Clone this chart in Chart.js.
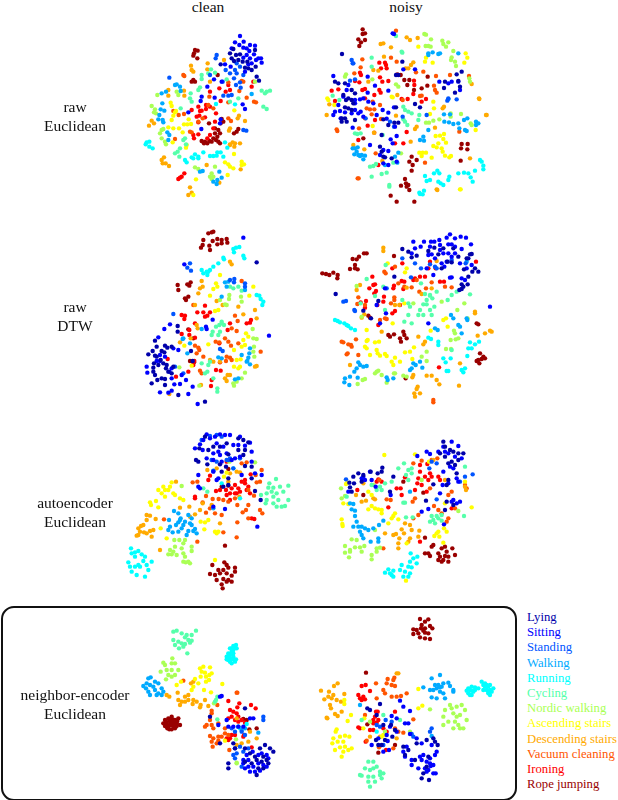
<!DOCTYPE html>
<html>
<head>
<meta charset="utf-8">
<script src="https://cdn.jsdelivr.net/npm/chart.js@4"></script>
<style>
  html, body { margin: 0; padding: 0; background: #fff; }
  #page { position: relative; width: 618px; height: 800px; overflow: hidden; font-family: "Liberation Serif", serif; color: #111; }
  #page canvas { position: absolute; }
  .title, .rowLabel { position: absolute; font-size: 15.5px; line-height: 18.5px; text-align: center; white-space: nowrap; }
  .title { width: 100px; top: -2px; }
  .rowLabel { left: 5px; width: 140px; }
  .legendItem { position: absolute; left: 527px; font-size: 12.7px; line-height: 15px; white-space: nowrap; }
  #frame { position: absolute; left: 1px; top: 606px; width: 512px; height: 191px; border: 2px solid #111; border-radius: 13px; }
</style>
</head>
<body>
<div id="page"><div id="frame"></div></div>
<script>
const activities = ['Lying', 'Sitting', 'Standing', 'Walking', 'Running', 'Cycling', 'Nordic walking', 'Ascending stairs', 'Descending stairs', 'Vacuum cleaning', 'Ironing', 'Rope jumping'];
const activityColors = ['#0000aa', '#0000ff', '#0055ff', '#00aaff', '#00ffff', '#55ffaa', '#aaff55', '#ffff00', '#ffaa00', '#ff5500', '#ff0000', '#990000'];
const columnTitles = ['clean', 'noisy'];
const rowLabels = [['raw', 'Euclidean'], ['raw', 'DTW'], ['autoencoder', 'Euclidean'], ['neighbor-encoder', 'Euclidean']];

// embedding values, one x,y list per activity (same order as activities)
const rawEuclideanClean = [
  [310,72,300,85,318,90,305,100,330,88,312,108,325,105,272,118,345,128,355,130,377,125,365,135,380,155,387,167,352,110,338,110,375,75],
  [330,33,315,52,341,50,328,60,305,70,340,68,350,70,360,60,375,62,358,78,372,88,350,90,340,98,360,100,385,100,393,100,395,113,378,105,365,115,355,118,285,118,302,125,345,140,232,185,252,163,275,170,345,252,338,238,254,218,215,215,212,228,175,262,270,295,272,283,214,312],
  [260,90,257,100,118,158,300,145,320,115,330,125,315,135,320,145,340,150,312,160,330,172,318,180,305,210,295,212,280,212,332,188,287,135,278,170,340,315,349,317,240,150],
  [140,178,150,185,135,180,108,200,95,205,152,198,97,235,92,253,103,257,88,270,85,283,98,285,100,292,112,322,118,330,115,345,365,207,218,438,210,440,268,440,275,458,262,465,260,477,250,470],
  [50,352,58,350,47,358,58,365,68,370,185,397,195,388,205,395,190,400,205,400,165,405,170,412,220,382,240,393,250,393,262,382,272,382,260,392,280,395,292,368,285,352,258,237,315,238],
  [243,133,235,145,255,143,215,150,215,162,290,163,210,187,205,195,182,205,180,220,185,230,395,197,405,205,420,197,410,200,400,245,410,252,152,250,165,340,160,345,168,358,150,370,143,380,135,385,148,395,300,230,325,220],
  [82,210,65,243,75,253,78,265,72,262,95,315,90,325,95,340,105,350,108,358,140,200,145,210,195,427,205,432,255,425,245,445,240,455,250,455,245,462,375,170,100,312],
  [122,233,125,243,135,262,130,272,138,258,125,285,115,307,130,310,147,310,162,298,172,298,183,297,176,283,128,352,168,368,170,360,158,322,312,387,285,412,295,418,310,430,335,410,342,418,335,420,300,425,293,450,198,463,313,256,190,510],
  [233,115,183,122,185,135,190,140,232,133,240,170,115,195,115,212,162,197,163,212,65,287,72,295,57,302,102,397,95,405,98,415,107,415,117,423,332,433,330,355,315,355,300,358,308,352,313,365,300,360,297,317,300,310,323,280,327,272,345,288,180,487,185,503,175,510,282,105,230,420,268,473],
  [160,150,163,153,372,230,378,232,350,218,328,198,335,168,340,170,238,215,295,232,295,172,130,258,146,270,162,267,180,320,185,322,295,280,303,288,135,342,205,290,218,280,250,250,235,240],
  [365,185,295,180,287,200,272,228,300,195,240,200,268,190,258,265,228,240,240,245,228,252,205,245,210,258,185,255,215,257,200,275,208,272,225,277,205,292,255,290,190,330,205,328,192,340,145,462,150,458,155,455,163,445,250,310,370,170,240,330,232,340],
  [195,75,203,77,192,85,190,92,202,100,185,170,195,170,190,165,263,150,255,310,265,315,270,325,255,325,262,335,250,340,245,350,238,348,225,350,215,348,232,355,222,355,258,345,265,350,270,355,275,282,280,290,272,295,325,312,320,320,312,325,237,295]
];
const rawEuclideanNoisy = [
  [66,102,45,185,55,190,75,190,95,210,70,225,85,235,105,220,78,240,95,240,100,250,75,262,85,265,95,270,65,295,75,295,80,305,105,300,190,298,185,345,180,380,185,395,190,410,195,412,215,415,247,125,228,165,235,165,410,163,425,155,415,183,405,218,420,200,375,185,372,204,285,252,300,262,228,262,205,315,223,308,235,308,65,305],
  [40,168,70,230,80,210,85,195,105,240,105,250,55,255,45,275,60,273,75,277,40,285,62,295,95,280,105,270,122,275,130,290,98,323,115,280,120,238,130,235,145,245,160,250,143,218,165,197,143,170,205,212,205,278,188,270,170,285,200,296,222,262,150,375,180,405,190,390,205,393,212,358,230,348,218,370,225,320,250,148,285,148,218,40,222,42,395,185,415,185,385,190,358,185,420,210,190,430,205,435,230,425],
  [95,120,98,130,100,130,90,182,105,178,385,235,382,242,410,238,320,285,210,305,222,320,137,295,248,290],
  [325,100,338,97,355,102,360,100,415,100,325,105,385,238,372,283,390,283,373,305,387,307,400,312,415,310,418,325,432,300,442,295,435,330,440,333,468,305,475,310,468,315,325,330,300,360,310,350,312,362,105,385,98,385,113,382,110,395,103,403,115,405,125,405,135,407,130,418,120,408,235,398,225,410,232,428,195,435],
  [300,522,312,512,308,523,298,518,315,468,330,480,320,483,342,460,352,452,358,460,355,485,362,490,370,495,385,480,388,470,415,460,432,458,445,460,452,472,458,485,465,452,480,420,485,425,490,437,490,448],
  [228,48,245,95,247,98,155,113,155,140,38,227,58,240,105,340,112,342,122,340,250,260,255,270,265,275,275,280,298,285,295,300,255,305,262,315,250,298,155,470,150,440,160,438,168,432,185,462,200,458,208,495,208,500,220,428,188,345],
  [78,163,75,170,157,178,228,193,235,200,313,42,318,44,333,58,367,62,370,72,385,67,378,80,317,78,325,78,332,80,400,93,395,112,393,120,405,125,408,138,448,175,450,185,318,308,327,308,340,302,358,298,392,280,392,290,423,282,452,310,455,315,243,400],
  [22,235,25,240,43,255,295,80,318,113,315,125,338,128,437,100,442,113,433,128,340,245,342,265,330,282,372,342,360,347,347,348,370,357,378,368,355,370,340,378,350,382,365,385,368,395,375,407,388,412,393,408,298,398,308,398,318,398,305,408,335,413,420,508,422,508,467,330,215,230,218,232,158,318],
  [20,285,28,253,182,72,190,70,213,82,260,52,270,60,293,54,192,110,257,145,265,145,273,135,280,127,145,185,175,152,160,150,232,225,228,287,368,265,372,260,345,323,290,320,285,327,450,415,350,508,352,510,477,235,478,237,498,285,500,285,455,192,272,365,162,338,133,388,187,423,100,375],
  [228,32,127,118,213,113,230,125,288,157,310,155,342,197,345,210,350,218,348,168,390,165,447,168,305,227,300,228,248,240,158,245,140,265,150,268,163,268,180,255,183,297,155,283,50,328,52,333,117,325,163,338,167,400,315,428,113,475,116,475,103,160,122,142,135,295,418,335],
  [55,208,35,212,45,243,120,158,123,165,105,183,118,187,127,210,135,207,178,128,195,128,198,135,180,172,187,185,205,183,183,145,200,145,178,210,182,218,163,225,135,235,263,237,282,182,283,195,245,237,280,222,305,245,318,237,143,317,260,336,225,370,175,435,115,360,250,370,165,300],
  [128,28,128,42,135,40,115,58,135,60,123,67,118,78,232,163,242,165,253,180,268,180,262,195,282,210,305,205,323,170,322,197,130,355,275,410,290,420,268,425,278,435,275,452,425,372,443,372,423,385,442,388,422,422,255,477,258,490,265,495,243,497,260,500,268,510,212,527,230,545,283,545]
];
const rawDtwClean = [
  [380,112,75,347,68,378,55,388,80,365,95,378,105,362,112,368,103,382,75,392,80,395,72,415,70,428,85,420,92,405,100,415,110,420,108,430,115,440,125,445,70,440,75,450,82,465,65,475,95,460,105,462,105,480,125,365,143,320,143,303,183,378,188,408,130,425,145,510,225,530],
  [340,38,163,118,120,298,103,312,85,337,130,370,145,375,90,390,90,408,105,395,80,408,50,425,52,443,118,440,125,430,125,460,133,478,150,477,168,465,155,450,125,497,115,503,90,502,175,507,203,537,188,485,417,332,248,284,228,305,230,312],
  [180,115,172,128,183,137,130,267,300,165,313,162,312,172,345,175,345,185,270,372,278,378,160,445,135,425],
  [285,172,295,170,290,185,345,195,360,370,358,385,355,398,350,410,360,418,352,408,335,390,315,463,325,460,160,340,158,342,275,215,180,355,172,385,215,312,275,400,265,397],
  [318,68,328,66,310,72,312,82,340,92,343,100,280,98,282,103,265,115,250,125,240,135,230,140,215,135,220,145,232,150,235,140,380,210,388,212,392,222,400,230,397,240],
  [300,185,310,190,325,185,335,197,275,295,268,300,258,305,248,320,245,330,270,320,265,330,282,300,275,290,240,410,235,420,232,440,225,445,215,415,250,460,262,490,262,500],
  [298,210,297,222,285,238,290,240,270,225,333,215,335,230,370,340,380,342,372,365,370,380,373,395,345,443,335,460,320,470,310,475,312,482,148,427,208,482,368,312],
  [258,175,270,150,262,185,240,212,250,192,255,258,265,255,358,212,370,185,348,325,355,335,340,345,345,360,335,365,312,375,320,405,332,403,312,425,325,430,330,425,235,358,185,422,163,362],
  [300,110,305,118,215,168,218,185,210,190,205,205,195,240,260,228,278,240,340,268,375,255,380,280,325,245,200,300,203,310,150,352,182,340,240,405,250,410,293,450,300,450,285,460,290,468,375,425,380,423,118,507,213,480,270,410],
  [315,272,323,288,305,310,320,318,285,340,295,350,303,362,325,355,195,362,205,368,208,375,200,385,290,395,300,398,288,408,305,405,392,380,210,437,215,445,257,350,268,352,220,395,335,168,190,240],
  [225,242,202,262,220,262,232,272,240,262,225,275,155,270,165,272,163,282,195,295,178,315,155,327,178,330,195,338,300,295,293,315,350,295,270,412,258,435,272,437,245,465,243,483,175,440,190,420,138,455,113,402,193,408,360,293,268,355,363,285],
  [235,25,245,22,250,20,220,45,248,48,262,42,275,45,290,42,292,53,275,55,262,58,238,62,240,75,213,68,218,60,143,180,145,195,172,178,182,172,178,182,165,220,175,215,168,225,175,313,190,340,180,408,188,410,192,412]
];
const rawDtwNoisy = [
  [262,72,280,80,290,97,305,92,340,78,358,68,370,88,385,70,398,110,410,112,415,70,430,95,455,100,460,100,465,88,470,87,447,133,480,130,490,140,472,140,440,178,440,192,445,185,460,155,433,195,62,207,190,228,238,155,145,257,168,280,458,178,380,130],
  [295,50,327,50,348,50,358,50,373,45,395,38,405,28,420,40,437,35,453,38,468,58,345,65,375,60,400,58,410,58,420,65,440,72,385,85,400,85,410,95,375,75,300,70,317,65,340,90,350,88,360,100,380,115,395,110,420,85,435,115,455,130,470,120,440,160,450,165,405,158,410,157,388,125,355,150,335,130,290,85,185,240,210,190,213,265,525,245,195,295,340,295],
  [118,255,120,258,85,230,93,228,262,100,288,157,318,130,345,118,360,125,365,130,215,190,300,115,410,105,452,115],
  [455,110,408,270,415,280,430,300,435,305,455,280,457,285,360,310,368,315,130,412,135,420,125,430,118,440,105,455,90,460,88,472,103,480,128,458,145,425,155,423,215,457,218,465,235,460,290,430,285,435,295,415,302,420,315,410,322,428,440,325],
  [60,285,68,288,75,292,88,295,100,303,95,300,108,310,120,315,340,338,348,342,370,350,370,360,465,352,470,370,480,358,492,350,460,370,385,400,392,412,395,438,400,438,407,400,457,393,440,435,450,430,445,442],
  [155,162,212,120,180,213,205,185,318,175,330,207,345,210,352,220,335,225,345,212,358,245,345,255,350,270,365,200,398,225,410,210,425,200,465,208,285,245,280,270,268,290,290,295,310,270,325,270,325,238,335,238,315,255,262,225,280,235,210,255,137,235,410,375],
  [125,183,140,275,295,235,380,230,448,235,427,255,458,280,417,317,420,325,407,345,422,343,430,340,408,372,393,372,335,380,320,395,335,408,185,440,190,437,180,445,200,450,237,445,265,452,275,455,143,465,150,462,128,477,215,473,240,445],
  [218,115,275,130,270,142,268,235,233,295,155,315,158,345,155,348,150,365,155,370,192,350,185,375,165,390,188,385,195,392,210,387,215,393,240,398,230,410,235,420,270,382,285,380,297,367,292,402,385,285,393,280,398,305,347,317,255,410,180,352],
  [205,68,205,78,135,180,125,195,365,108,350,190,320,207,275,188,480,260,480,265,510,325,525,317,530,320,488,332,310,335,325,358,330,350,200,320,240,240,253,240,105,420,295,450,292,457,335,452,350,452,365,465,373,478,432,482,435,415,308,485,305,492,298,505,300,515,315,505,148,268,140,278],
  [208,140,212,145,240,125,130,217,127,237,210,280,215,282,228,235,238,217,238,225,250,175,268,185,290,187,313,200,333,190,350,172,390,185,410,187,305,165,80,350,85,352,100,358,108,360,110,365,98,385,95,388,130,390,123,343,355,525,355,532,150,240,195,285],
  [232,130,262,115,172,155,175,180,180,178,163,190,183,198,178,205,153,228,150,248,137,232,207,215,205,230,187,240,235,190,237,182,268,170,260,168,265,192,295,165,300,160,315,155,330,155,375,170,387,170,345,110,362,130,483,110,240,258,232,265,190,300,372,427,255,240,340,130],
  [22,145,33,147,43,150,55,143,68,150,67,160,113,102,125,103,132,95,147,85,155,85,105,132,120,120,120,130,128,133,237,93,160,272,165,278,220,330,225,335,237,328,265,320,268,330,255,340,258,350,275,340,485,295,490,298,495,385,505,395,510,400,500,402,490,405,485,408,493,415,272,460]
];
const autoencoderClean = [
  [238,70,255,35,265,75,280,65,300,65,320,55,355,40,370,45,385,52,228,105,235,110,262,118,300,118,318,125,370,90,375,75,355,75,325,88,375,123,395,125,405,198,422,225,310,185,325,160,305,140,325,180,395,160],
  [260,28,270,40,250,45,285,35,300,28,315,30,330,30,360,35,240,58,225,70,248,75,290,55,310,65,295,80,280,85,300,90,320,85,340,60,355,60,375,62,360,95,345,100,335,105,260,100,280,105,395,80,390,53,305,110,235,150,240,190,280,140,295,160,290,165,405,145,395,110,315,252,280,245,412,305,425,150,365,150,235,185],
  [245,45,290,30,270,33,305,35,360,100,330,100,275,105,320,105,290,110,280,138,340,130,325,105],
  [162,258,175,265,147,285,182,280,175,292,190,300,205,270,215,280,215,300,205,318,225,312,230,325,145,315,158,322,175,320,185,310,195,290,200,330,220,318,168,300,180,285,150,305,280,250,210,295,280,137],
  [33,370,35,385,45,382,55,378,65,388,75,395,45,395,25,412,30,425,45,425,55,420,70,408,80,420,95,410,85,435,35,440,50,450,75,455,60,425,305,175,360,220,340,130],
  [250,190,262,200,448,175,468,162,445,188,460,188,480,185,505,182,423,210,440,205,455,200,470,205,490,200,505,225,440,225,460,215,475,225,460,235,470,245,495,243,485,245,437,235],
  [328,110,405,112,185,183,163,345,178,345,195,345,165,365,190,355,150,375,160,380,145,388,155,388,185,370,190,385,170,390,195,395,215,365,215,378,190,410,205,410,210,415,197,412],
  [155,172,130,185,115,195,135,195,150,185,145,195,125,205,135,215,160,205,165,210,180,220,190,225,108,228,90,232,93,240,115,247,242,290,255,292,265,285,253,313,285,320,290,325,295,320,122,310,140,340,285,405,320,143,312,155],
  [168,170,90,272,80,285,70,300,63,303,55,310,60,320,72,322,80,325,90,318,100,315,55,330,50,332,95,335,80,270,107,282,180,248,208,245,240,255,210,275,225,268,275,240,300,295,120,375,325,170,358,215,360,142,262,135,330,145,350,140,248,235,290,130],
  [218,172,232,170,258,213,248,232,278,222,296,222,270,250,258,263,285,265,305,270,352,292,310,322,350,337,232,350,132,283,385,280,368,262,378,255,352,240,385,240,425,135,407,150,410,172,420,170,420,255,427,265,380,112,365,115,402,212,385,195,325,230,310,225,345,220],
  [270,152,265,165,288,198,300,195,318,195,320,210,330,205,345,180,355,190,335,190,375,175,385,185,380,195,360,200,330,225,225,215,225,220,395,280,403,282,390,205,375,165,365,170,345,205,320,110,392,148,350,205],
  [315,362,313,412,320,420,277,420,295,435,310,435,325,428,345,428,345,440,270,447,285,450,300,445,320,445,335,452,290,465,310,462,325,465,335,470,305,478,320,470,308,490,325,132,305,185,325,182]
];
const autoencoderNoisy = [
  [70,140,72,160,85,130,100,135,122,125,143,130,157,113,155,125,65,185,60,172,58,158,95,155,180,185,190,140,345,50,330,70,345,80,360,60,370,65,385,70,400,70,355,100,365,95,385,90,375,105,380,130,310,163,350,165,355,150,288,212,350,215,370,225,345,240,340,35],
  [340,50,365,35,385,48,300,72,325,65,345,65,355,70,375,80,395,85,360,110,370,115,380,145,385,155,355,160,340,125,330,190,365,215,370,210,380,220,390,215,342,283,295,237,275,245,100,140,95,145,105,150,125,150,137,170,55,185,182,195,262,78,290,65,120,125,338,165],
  [48,148,298,115,305,95,320,100,428,133,320,208,390,155,405,140],
  [60,220,70,222,65,238,75,242,75,258,70,290,85,290,95,290,105,295,90,305,95,315,100,325,115,300,130,295,145,325,145,335,122,335,80,275,160,272,147,285,240,185],
  [242,370,240,395,250,385,262,380,260,400,215,405,235,410,245,412,210,420,225,425,240,430,190,422,175,418,180,430,190,440,165,428,220,440,235,440,185,435],
  [205,115,222,100,235,120,245,115,228,135,235,150,245,130,150,170,155,180,140,180,185,155,165,160,220,218,225,218,305,258,320,258,335,255,310,270,325,265,335,272,300,275,315,280,405,110,402,258,228,262,248,262,125,165,50,200],
  [33,175,35,205,45,198,65,328,80,330,45,348,60,360,75,352,90,352,103,348,45,368,60,365,57,382,95,365,140,355,150,353,140,365,125,375,125,388,135,300,275,150,385,243,130,165],
  [163,75,255,73,48,162,52,158,40,220,55,222,115,185,125,195,125,228,115,238,135,235,145,238,155,240,155,250,195,250,190,258,185,265,205,268,175,280,35,268,37,282,38,288,313,318,325,305,320,310,328,320,342,295,350,305,340,338,230,340,425,232,405,155,297,95,228,452,345,220],
  [78,195,95,215,108,212,130,205,135,208,100,160,240,285,225,280,215,298,198,312,190,315,208,325,245,300,240,325,235,335,205,340,205,355,265,320,165,310,268,302,222,310,310,90,345,150,405,170,408,180],
  [250,100,305,90,275,92,322,85,170,208,182,210,160,355,248,215,255,205,300,175,312,228,325,240,335,250,350,275,355,265,375,235,405,165,410,175,355,195,365,185,265,255,250,265,148,150],
  [270,105,292,102,270,125,300,130,285,140,305,140,265,145,295,150,262,160,255,180,275,165,290,185,330,150,145,148,140,155,200,175,212,175,215,195,82,180,225,142,270,335,365,235,325,140,155,155,175,232],
  [220,155,100,195,285,323,285,370,295,370,300,378,310,345,305,350,325,370,335,355,345,350,350,365,330,380,340,390,325,390,345,378,355,380,367,355,375,375,355,395,335,395,280,188]
];
const neighborEncoderClean = [
  [360,400,375,410,390,385,405,375,420,385,430,395,400,410,380,420,365,430,395,425,410,420,415,430,400,445,345,425,385,445,380,465,345,265,240,290,270,370,310,370,345,385,315,385,295,430,295,445],
  [350,405,355,420,368,395,385,405,395,400,410,405,415,415,340,430,355,440,370,440,385,430,400,435,410,440,360,455,345,445,375,455,390,452,340,420,340,320,325,320,290,300,270,230,275,228,360,295,370,295,265,315,295,320,310,320],
  [315,385,330,380,320,400,310,405,315,415,340,395,400,290,400,300,305,325,315,335,335,335,345,345,355,385,335,440],
  [55,175,62,172,50,190,40,198,48,205,60,195,75,185,85,190,55,215,60,225,75,210,85,220,95,205,100,215,95,225,80,225,70,200,385,338,335,330,345,325,325,320],
  [300,85,310,78,318,75,310,90,295,100,300,115,310,110,290,110,300,125,315,125,305,130,320,85,295,120,325,320,350,312,330,325,305,85,315,82,305,95,300,105,310,100,295,108,305,118,312,118,290,118,318,118],
  [130,35,140,32,155,40,170,45,185,45,198,32,130,60,145,65,155,70,165,72,175,60,180,68,185,62,147,85,160,80,172,100,135,75,165,52,262,230,255,245,262,298,258,240],
  [100,128,105,135,127,115,125,130,135,130,92,155,110,150,125,150,145,150,115,165,125,170,108,178,135,165,320,430,320,428,318,358,252,250],
  [210,145,220,140,240,142,215,155,225,158,245,160,212,170,228,170,238,165,228,185,237,180,140,195,153,185,195,177,205,190,190,200,185,210,222,210,243,217,277,192,285,362],
  [110,225,118,230,143,218,145,240,155,245,165,230,175,225,165,245,175,240,190,240,150,255,188,252,200,245,183,190,190,185,212,255,210,262,235,258,225,240,360,335,380,355,355,365,320,375,335,370,320,295],
  [160,182,320,218,322,218,245,280,240,300,230,315,245,315,225,320,250,325,265,310,262,255,245,272,298,390,240,348,250,355,265,350,275,350,245,365,260,370,248,380,265,362,285,325,295,345,285,340],
  [295,243,328,250,322,262,363,255,377,265,300,270,310,275,320,280,295,295,315,300,325,305,305,290,325,290,340,350,342,345,365,382,290,355,300,355,315,345,345,308,335,300,305,345,295,360],
  [105,300,115,295,125,290,135,300,145,295,110,310,120,305,130,310,140,310,150,315,105,318,115,320,125,315,135,320,112,325,125,328,135,325,350,300,358,328,380,325,340,297,118,300,128,298,100,310,108,305,142,303,120,315,130,318,118,328,140,318,110,315,128,305,138,315]
];
const neighborEncoderNoisy = [
  [157,295,165,300,185,315,195,282,205,345,240,360,228,345,232,380,210,390,200,405,190,405,183,390,265,410,270,435,280,420,305,400,335,390,355,385,360,395,340,440,335,470,325,490,320,505,342,510,300,450,368,405],
  [255,272,265,290,285,303,285,372,305,385,320,400,350,405,365,425,360,435,275,410,265,425,270,440,290,450,315,440,325,435,345,445,320,450,335,455,345,460,330,475,340,480,355,465,355,490,362,490,290,465,310,475,335,485,347,468,230,318,245,325,215,375,222,420,205,425,218,393,170,405,190,385,225,350,245,365,270,340,280,340],
  [230,335,205,405,212,330,195,350,295,380,350,355,345,365,290,372,185,345],
  [135,285,325,232,350,205,375,195,360,225,370,225,385,220,400,218,405,228,415,240,355,240,375,245,385,250,350,262,365,265,390,265,415,245,380,230,345,240,350,378,365,235,375,232],
  [460,235,470,230,480,240,490,235,460,250,475,245,500,215,510,220,525,225,535,235,515,240,505,240,525,255,530,245,520,250,185,365,470,255,465,240,470,242,480,232,455,242,510,230,520,230,515,225,505,225,525,240,520,245,465,255],
  [160,455,175,455,150,475,165,480,175,475,185,470,195,485,205,490,135,495,160,500,175,500,195,495,200,505,160,515,180,515,165,530,140,497,205,315,255,330,140,330],
  [405,285,390,300,410,295,425,290,440,285,450,300,385,320,415,310,425,320,435,315,455,330,400,335,420,335,385,345,430,345,445,355,415,355,435,355,345,298,285,365,165,335,210,365],
  [65,358,62,365,55,385,75,380,90,377,103,380,68,395,52,400,85,395,60,420,75,412,90,410,100,420,110,415,80,440,85,425,310,237,310,295,322,287,88,270,88,282,98,333,108,315,200,380,205,375,148,325,145,355],
  [68,220,57,228,18,242,42,245,55,255,28,268,40,260,50,265,65,270,88,252,78,275,45,285,48,295,60,312,68,318,80,305,35,323,37,325,245,190,250,190,165,380,195,380,245,385],
  [183,220,218,207,238,203,215,220,235,210,240,228,230,225,205,240,210,250,185,265,230,260,245,260,275,250,258,258,295,328,240,355,250,365,265,368,150,315,235,415,192,412,155,392],
  [140,228,152,225,165,243,130,255,135,265,145,260,150,268,140,270,180,320,175,330,190,330,185,338,175,340,165,360,175,360,130,352,135,355,152,395,188,305,183,305,215,365,240,305,213,420,205,355],
  [315,27,340,28,330,35,320,45,345,48,352,55,295,58,305,60,318,55,330,55,295,72,310,70,330,68,340,70,315,82,330,85,345,87,325,62,153,188,240,405,190,428,157,343]
];

const page = document.getElementById('page');

// panel: where the canvas sits on the page, and the extent of its value range
const panels = [
  { values: rawEuclideanClean, left: 130, top: 25, width: 160, height: 180 },
  { values: rawEuclideanNoisy, left: 320, top: 20, width: 180, height: 185 },
  { values: rawDtwClean, left: 130, top: 225, width: 150, height: 185 },
  { values: rawDtwNoisy, left: 315, top: 225, width: 185, height: 185 },
  { values: autoencoderClean, left: 120, top: 425, width: 180, height: 170 },
  { values: autoencoderNoisy, left: 330, top: 430, width: 150, height: 160 },
  { values: neighborEncoderClean, left: 130, top: 620, width: 160, height: 165 },
  { values: neighborEncoderNoisy, left: 315, top: 610, width: 185, height: 180 }
];

const toPoints = flat => {
  const points = [];
  for (let i = 0; i < flat.length; i += 2) {
    points.push({ x: flat[i], y: flat[i + 1] });
  }
  return points;
};

panels.forEach(panel => {
  const canvas = document.createElement('canvas');
  canvas.width = panel.width;
  canvas.height = panel.height;
  canvas.style.left = panel.left + 'px';
  canvas.style.top = panel.top + 'px';
  canvas.style.width = panel.width + 'px';
  canvas.style.height = panel.height + 'px';
  page.appendChild(canvas);

  new Chart(canvas.getContext('2d'), {
    type: 'scatter',
    data: {
      datasets: panel.values.map((list, i) => ({
        label: activities[i],
        data: toPoints(list),
        backgroundColor: activityColors[i],
        borderWidth: 0,
        pointRadius: 2.2,
        clip: false
      }))
    },
    options: {
      responsive: false,
      animation: false,
      layout: { padding: 0, autoPadding: false },
      plugins: { legend: { display: false }, tooltip: { enabled: false } },
      scales: {
        x: { display: false, min: 0, max: panel.width * 3 },
        y: { display: false, min: 0, max: panel.height * 3, reverse: true }
      }
    }
  });
});

// titles, row labels and the colour key are plain text
const addText = (className, html, style) => {
  const el = document.createElement('div');
  el.className = className;
  el.innerHTML = html;
  Object.assign(el.style, style);
  page.appendChild(el);
};

const titleLefts = [158, 356];
columnTitles.forEach((t, i) => addText('title', t, { left: titleLefts[i] + 'px' }));

const rowTops = [98, 298, 494, 686];
rowLabels.forEach((lines, i) => addText('rowLabel', lines.join('<br>'), { top: rowTops[i] + 'px' }));

activities.forEach((name, i) => addText('legendItem', name, {
  top: 610 + i * 15.2 + 'px',
  color: activityColors[i]
}));
</script>
</body>
</html>
